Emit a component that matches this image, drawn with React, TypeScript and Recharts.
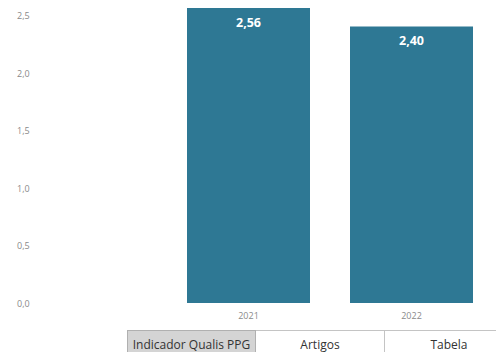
import { Bar, BarChart, LabelList, XAxis, YAxis } from "recharts"

const anos = ["2021", "2022"]
const indicador = [2.56, 2.4]
const yTicks = [0, 0.5, 1, 1.5, 2, 2.5]
const abas = ["Indicador Qualis PPG", "Artigos", "Tabela"]

const data = anos.map((ano, i) => ({ ano, valor: indicador[i] }))

const fmt = (v: number, d: number) => v.toFixed(d).replace(".", ",")

const font = "'Open Sans', 'Noto Sans', sans-serif"

function YTick({ y, payload }: any) {
  return (
    <text x={17} y={y + 4} fill="#8a8a8a" fontSize={9} fontFamily={font}>
      {fmt(payload.value, 1)}
    </text>
  )
}

export default function App() {
  return (
    <div style={{ position: "absolute", left: 0, top: 0, width: 496, height: 352, background: "#fff", overflow: "hidden", fontFamily: font }}>
      <BarChart
        width={496}
        height={323}
        data={data}
        margin={{ top: 0, right: 3, left: 0, bottom: 0 }}
        barCategoryGap={20}
      >
        <XAxis
          dataKey="ano"
          height={20}
          axisLine={false}
          tickLine={false}
          tick={{ fontSize: 9, fill: "#8a8a8a", fontFamily: font }}
          tickMargin={4}
        />
        <YAxis
          width={167}
          domain={[0, 2.63]}
          ticks={yTicks}
          axisLine={false}
          tickLine={false}
          tick={<YTick />}
        />
        <Bar dataKey="valor" fill="#2e7894" isAnimationActive={false}>
          <LabelList
            dataKey="valor"
            position="insideTop"
            offset={10}
            formatter={(v: any) => fmt(Number(v), 2)}
            style={{ fill: "#fff", fontSize: 12.5, fontWeight: 700, fontFamily: font }}
          />
        </Bar>
      </BarChart>
      <div style={{ position: "absolute", left: 127, top: 330, display: "flex", height: 28 }}>
        {abas.map((aba, i) => (
          <div
            key={aba}
            style={{
              width: 129,
              boxSizing: "border-box",
              border: i === 0 ? "1px solid #b0b0b0" : "1px solid #c4c4c4",
              borderLeft: i === 0 ? "1px solid #b0b0b0" : "none",
              background: i === 0 ? "#d4d4d4" : "#fff",
              color: "#333",
              fontSize: 12,
              textAlign: "center",
              lineHeight: "27px",
              whiteSpace: "nowrap",
            }}
          >
            {aba}
          </div>
        ))}
      </div>
    </div>
  )
}
